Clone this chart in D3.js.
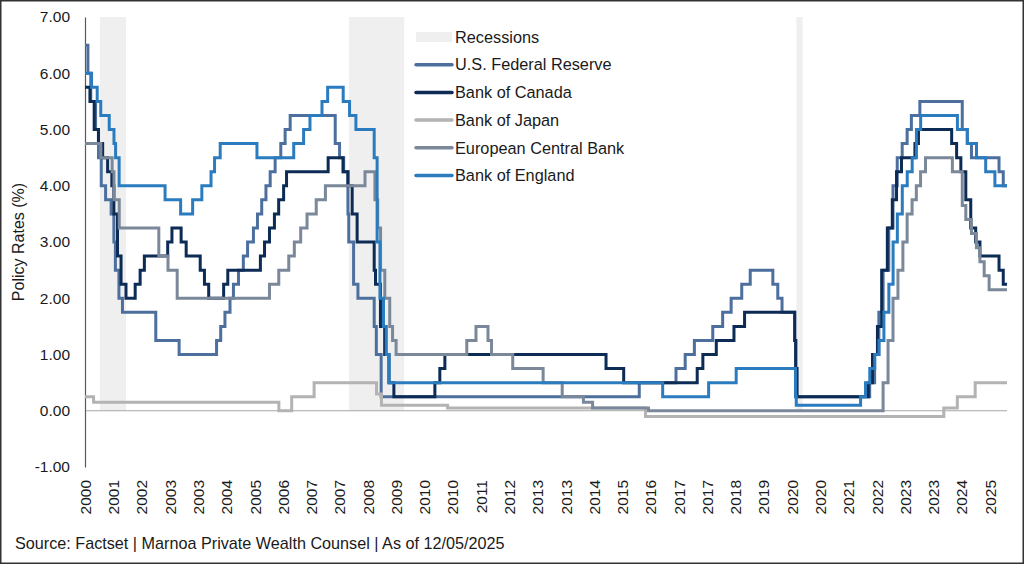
<!DOCTYPE html>
<html>
<head>
<meta charset="utf-8">
<script src="https://cdn.jsdelivr.net/npm/d3@7"></script>
<style>
  html, body { margin: 0; padding: 0; background: #fff; }
  svg { display: block; font-family: "Liberation Sans", Arial, sans-serif; }
</style>
</head>
<body>
<div id="chart"></div>
<script>
// policy rate change points: [date, rate]; each rate holds until the next change
const fedRates = [
  ["2000-12-05",6.5],["2001-01-03",6.0],["2001-01-31",5.5],["2001-03-20",5.0],["2001-04-18",4.5],
  ["2001-05-15",4.0],["2001-06-27",3.75],["2001-08-21",3.5],["2001-09-17",3.0],["2001-10-02",2.5],
  ["2001-11-06",2.0],["2001-12-11",1.75],["2002-11-06",1.25],["2003-06-25",1.0],["2004-06-30",1.25],
  ["2004-08-10",1.5],["2004-09-21",1.75],["2004-11-10",2.0],["2004-12-14",2.25],["2005-02-02",2.5],
  ["2005-03-22",2.75],["2005-05-03",3.0],["2005-06-30",3.25],["2005-08-09",3.5],["2005-09-20",3.75],
  ["2005-11-01",4.0],["2005-12-13",4.25],["2006-01-31",4.5],["2006-03-28",4.75],["2006-05-10",5.0],
  ["2006-06-29",5.25],["2007-09-18",4.75],["2007-10-31",4.5],["2007-12-11",4.25],["2008-01-22",3.5],
  ["2008-01-30",3.0],["2008-03-18",2.25],["2008-04-30",2.0],["2008-10-08",1.5],["2008-10-29",1.0],
  ["2008-12-16",0.25],["2015-12-16",0.5],["2016-12-14",0.75],["2017-03-15",1.0],["2017-06-14",1.25],
  ["2017-12-13",1.5],["2018-03-21",1.75],["2018-06-13",2.0],["2018-09-26",2.25],["2018-12-19",2.5],
  ["2019-07-31",2.25],["2019-09-18",2.0],["2019-10-30",1.75],["2020-03-03",1.25],["2020-03-15",0.25],
  ["2022-03-16",0.5],["2022-05-04",1.0],["2022-06-15",1.75],["2022-07-27",2.5],["2022-09-21",3.25],
  ["2022-11-02",4.0],["2022-12-14",4.5],["2023-02-01",4.75],["2023-03-22",5.0],["2023-05-03",5.25],
  ["2023-07-26",5.5],["2024-09-18",5.0],["2024-11-07",4.75],["2024-12-18",4.5],["2025-09-17",4.25],
  ["2025-10-29",4.0]
];
const bocRates = [
  ["2000-12-05",5.75],["2001-01-23",5.5],["2001-03-06",5.0],["2001-04-17",4.75],["2001-05-29",4.5],
  ["2001-07-17",4.25],["2001-08-28",4.0],["2001-09-17",3.5],["2001-10-23",2.75],["2001-11-27",2.25],
  ["2002-01-15",2.0],["2002-04-16",2.25],["2002-06-04",2.5],["2002-07-16",2.75],["2003-03-04",3.0],
  ["2003-04-15",3.25],["2003-07-15",3.0],["2003-09-03",2.75],["2004-01-20",2.5],["2004-03-02",2.25],
  ["2004-04-13",2.0],["2004-09-08",2.25],["2004-10-19",2.5],["2005-09-07",2.75],["2005-10-18",3.0],
  ["2005-12-06",3.25],["2006-01-24",3.5],["2006-03-07",3.75],["2006-04-25",4.0],["2006-05-24",4.25],
  ["2007-07-10",4.5],["2007-12-04",4.25],["2008-01-22",4.0],["2008-03-04",3.5],["2008-04-22",3.0],
  ["2008-10-08",2.5],["2008-10-21",2.25],["2008-12-09",1.5],["2009-01-20",1.0],["2009-03-03",0.5],
  ["2009-04-21",0.25],["2010-06-01",0.5],["2010-07-20",0.75],["2010-09-08",1.0],["2015-01-21",0.75],
  ["2015-07-15",0.5],["2017-07-12",0.75],["2017-09-06",1.0],["2018-01-17",1.25],["2018-07-11",1.5],
  ["2018-10-24",1.75],["2020-03-04",1.25],["2020-03-13",0.75],["2020-03-27",0.25],["2022-03-02",0.5],
  ["2022-04-13",1.0],["2022-06-01",1.5],["2022-07-13",2.5],["2022-09-07",3.25],["2022-10-26",3.75],
  ["2022-12-07",4.25],["2023-01-25",4.5],["2023-06-07",4.75],["2023-07-12",5.0],["2024-06-05",4.75],
  ["2024-07-24",4.5],["2024-09-04",4.25],["2024-10-23",3.75],["2024-12-11",3.25],["2025-01-29",3.0],
  ["2025-03-12",2.75],["2025-09-17",2.5],["2025-10-29",2.25]
];
const bojRates = [
  ["2000-12-05",0.25],["2001-02-28",0.15],["2006-03-09",0.0],["2006-07-14",0.25],["2007-02-21",0.5],
  ["2008-10-31",0.3],["2008-12-19",0.1],["2010-10-05",0.05],["2016-02-16",-0.1],["2024-03-19",0.05],
  ["2024-07-31",0.25],["2025-01-24",0.5]
];
const ecbRates = [
  ["2000-12-05",4.75],["2001-05-11",4.5],["2001-08-31",4.25],["2001-09-18",3.75],["2001-11-09",3.25],
  ["2002-12-06",2.75],["2003-03-07",2.5],["2003-06-06",2.0],["2005-12-06",2.25],["2006-03-08",2.5],
  ["2006-06-15",2.75],["2006-08-09",3.0],["2006-10-11",3.25],["2006-12-13",3.5],["2007-03-14",3.75],
  ["2007-06-13",4.0],["2008-07-09",4.25],["2008-10-15",3.75],["2008-11-12",3.25],["2008-12-10",2.5],
  ["2009-01-21",2.0],["2009-03-11",1.5],["2009-04-08",1.25],["2009-05-13",1.0],["2011-04-13",1.25],
  ["2011-07-13",1.5],["2011-11-09",1.25],["2011-12-14",1.0],["2012-07-11",0.75],["2013-05-08",0.5],
  ["2013-11-13",0.25],["2014-06-11",0.15],["2014-09-10",0.05],["2016-03-16",0.0],["2022-07-27",0.5],
  ["2022-09-14",1.25],["2022-11-02",2.0],["2022-12-21",2.5],["2023-02-08",3.0],["2023-03-22",3.5],
  ["2023-05-10",3.75],["2023-06-21",4.0],["2023-08-02",4.25],["2023-09-20",4.5],["2024-06-12",4.25],
  ["2024-09-18",3.65],["2024-10-23",3.4],["2024-12-18",3.15],["2025-02-05",2.9],["2025-03-12",2.65],
  ["2025-04-23",2.4],["2025-06-11",2.15]
];
const boeRates = [
  ["2000-12-05",6.0],["2001-02-08",5.75],["2001-04-05",5.5],["2001-05-10",5.25],["2001-08-02",5.0],
  ["2001-09-18",4.75],["2001-10-04",4.5],["2001-11-08",4.0],["2003-02-06",3.75],["2003-07-10",3.5],
  ["2003-11-06",3.75],["2004-02-05",4.0],["2004-05-06",4.25],["2004-06-10",4.5],["2004-08-05",4.75],
  ["2005-08-04",4.5],["2006-08-03",4.75],["2006-11-09",5.0],["2007-01-11",5.25],["2007-05-10",5.5],
  ["2007-07-05",5.75],["2007-12-06",5.5],["2008-02-07",5.25],["2008-04-10",5.0],["2008-10-08",4.5],
  ["2008-11-06",3.0],["2008-12-04",2.0],["2009-01-08",1.5],["2009-02-05",1.0],["2009-03-05",0.5],
  ["2016-08-04",0.25],["2017-11-02",0.5],["2018-08-02",0.75],["2020-03-11",0.25],["2020-03-19",0.1],
  ["2021-12-16",0.25],["2022-02-03",0.5],["2022-03-17",0.75],["2022-05-05",1.0],["2022-06-16",1.25],
  ["2022-08-04",1.75],["2022-09-22",2.25],["2022-11-03",3.0],["2022-12-15",3.5],["2023-02-02",4.0],
  ["2023-03-23",4.25],["2023-05-11",4.5],["2023-06-22",5.0],["2023-08-03",5.25],["2024-08-01",5.0],
  ["2024-11-07",4.75],["2025-02-06",4.5],["2025-05-08",4.25],["2025-08-07",4.0]
];

// shaded recession periods, as they sit on the chart
const recessions = [
  ["2001-05-01","2002-01-15"],
  ["2008-02-01","2009-08-01"],
  ["2020-03-20","2020-05-20"]
];

const seriesNames = ["U.S. Federal Reserve","Bank of Canada","Bank of Japan","European Central Bank","Bank of England"];
const seriesColors = ["#4c6f9e","#0c2b55","#b3b3b3","#7a8899","#2b7cbf"];
const seriesData = [fedRates, bocRates, bojRates, ecbRates, boeRates];

const yTicks = [-1,0,1,2,3,4,5,6,7];
const xTickLabels = ["2000","2001","2002","2003","2003","2004","2005","2006","2007","2007","2008",
  "2009","2010","2010","2011","2012","2013","2013","2014","2015","2016","2017","2017","2018",
  "2019","2020","2020","2021","2022","2023","2023","2024","2025"];
const startDate = "2000-12-05", endDate = "2025-12-05";
const labelEveryDays = 280; // category axis labels every 40 weekly points

const width = 1024, height = 564;
const parse = d3.utcParse("%Y-%m-%d");

const svg = d3.select("#chart").append("svg")
  .attr("width", width).attr("height", height)
  .attr("viewBox", [0, 0, width, height]);

const x = d3.scaleUtc().domain([parse(startDate), parse(endDate)]).range([85, 1007]);
const y = d3.scaleLinear().domain([-1, 7]).range([467, 17]);

// recession bands
svg.append("g").selectAll("rect")
  .data(recessions)
  .join("rect")
  .attr("x", d => x(parse(d[0])))
  .attr("width", d => x(parse(d[1])) - x(parse(d[0])))
  .attr("y", y(7))
  .attr("height", y(0) - y(7))
  .attr("fill", "#efefef");

// zero line
svg.append("line")
  .attr("x1", x.range()[0]).attr("x2", x.range()[1])
  .attr("y1", y(0)).attr("y2", y(0))
  .attr("stroke", "#a6a6a6").attr("stroke-width", 1.2);

// y axis
const fmt = d3.format(".2f");
const yAxis = svg.append("g")
  .attr("transform", `translate(${x.range()[0]},0)`)
  .call(d3.axisLeft(y).tickValues(yTicks).tickFormat(d => fmt(d).replace("\u2212", "-")).tickSize(0).tickPadding(15));
yAxis.select(".domain").attr("stroke", "#595959").attr("stroke-width", 1.2);
yAxis.selectAll("text").attr("font-size", 15.5).attr("fill", "#1a1a1a").attr("font-family", null);

// x axis labels (rotated)
const xTickDates = xTickLabels.map((_, i) => d3.utcDay.offset(parse(startDate), i * labelEveryDays));
const xAxis = svg.append("g")
  .attr("transform", `translate(0,${y(-1)})`)
  .call(d3.axisBottom(x).tickValues(xTickDates).tickFormat((d, i) => xTickLabels[i]).tickSize(0));
xAxis.select(".domain").remove();
xAxis.selectAll("text")
  .attr("font-size", 15.5).attr("fill", "#1a1a1a").attr("font-family", null)
  .attr("text-anchor", "end")
  .attr("transform", "rotate(-90)")
  .attr("x", -13).attr("y", 0).attr("dy", "0.35em");

// step lines
const line = d3.line()
  .x(d => x(d[0]))
  .y(d => y(d[1]))
  .curve(d3.curveStepAfter);

seriesData.forEach((rates, i) => {
  const pts = rates.map(d => [parse(d[0]), d[1]]);
  pts.push([parse(endDate), rates[rates.length - 1][1]]);
  svg.append("path")
    .datum(pts)
    .attr("fill", "none")
    .attr("stroke", seriesColors[i])
    .attr("stroke-width", 3)
    .attr("d", line);
});

// legend
const legend = svg.append("g").attr("transform", "translate(416,37)");
legend.append("rect").attr("x", 0).attr("y", -5).attr("width", 36).attr("height", 10).attr("fill", "#efefef");
legend.append("text").attr("x", 39).attr("y", 0).attr("dy", "0.35em")
  .attr("font-size", 16.3).attr("fill", "#1a1a1a").text("Recessions");
seriesNames.forEach((name, i) => {
  const g = legend.append("g").attr("transform", `translate(0,${(i + 1) * 27.7})`);
  g.append("line").attr("x1", 0).attr("x2", 36).attr("y1", 0).attr("y2", 0)
    .attr("stroke", seriesColors[i]).attr("stroke-width", 3.5).attr("stroke-linecap", "round");
  g.append("text").attr("x", 39).attr("y", 0).attr("dy", "0.35em")
    .attr("font-size", 16.3).attr("fill", "#1a1a1a").text(name);
});

// y axis title
svg.append("text")
  .attr("transform", `translate(24,${(y(7) + y(-1)) / 2}) rotate(-90)`)
  .attr("text-anchor", "middle")
  .attr("font-size", 16).attr("fill", "#1a1a1a")
  .text("Policy Rates (%)");

// source note
svg.append("text")
  .attr("x", 15).attr("y", 549)
  .attr("font-size", 16.2).attr("fill", "#1a1a1a")
  .text("Source: Factset | Marnoa Private Wealth Counsel | As of 12/05/2025");

// frame
svg.append("rect")
  .attr("x", 0.75).attr("y", 0.75).attr("width", width - 1.5).attr("height", height - 1.5)
  .attr("fill", "none").attr("stroke", "#333").attr("stroke-width", 1.5);
</script>
</body>
</html>
